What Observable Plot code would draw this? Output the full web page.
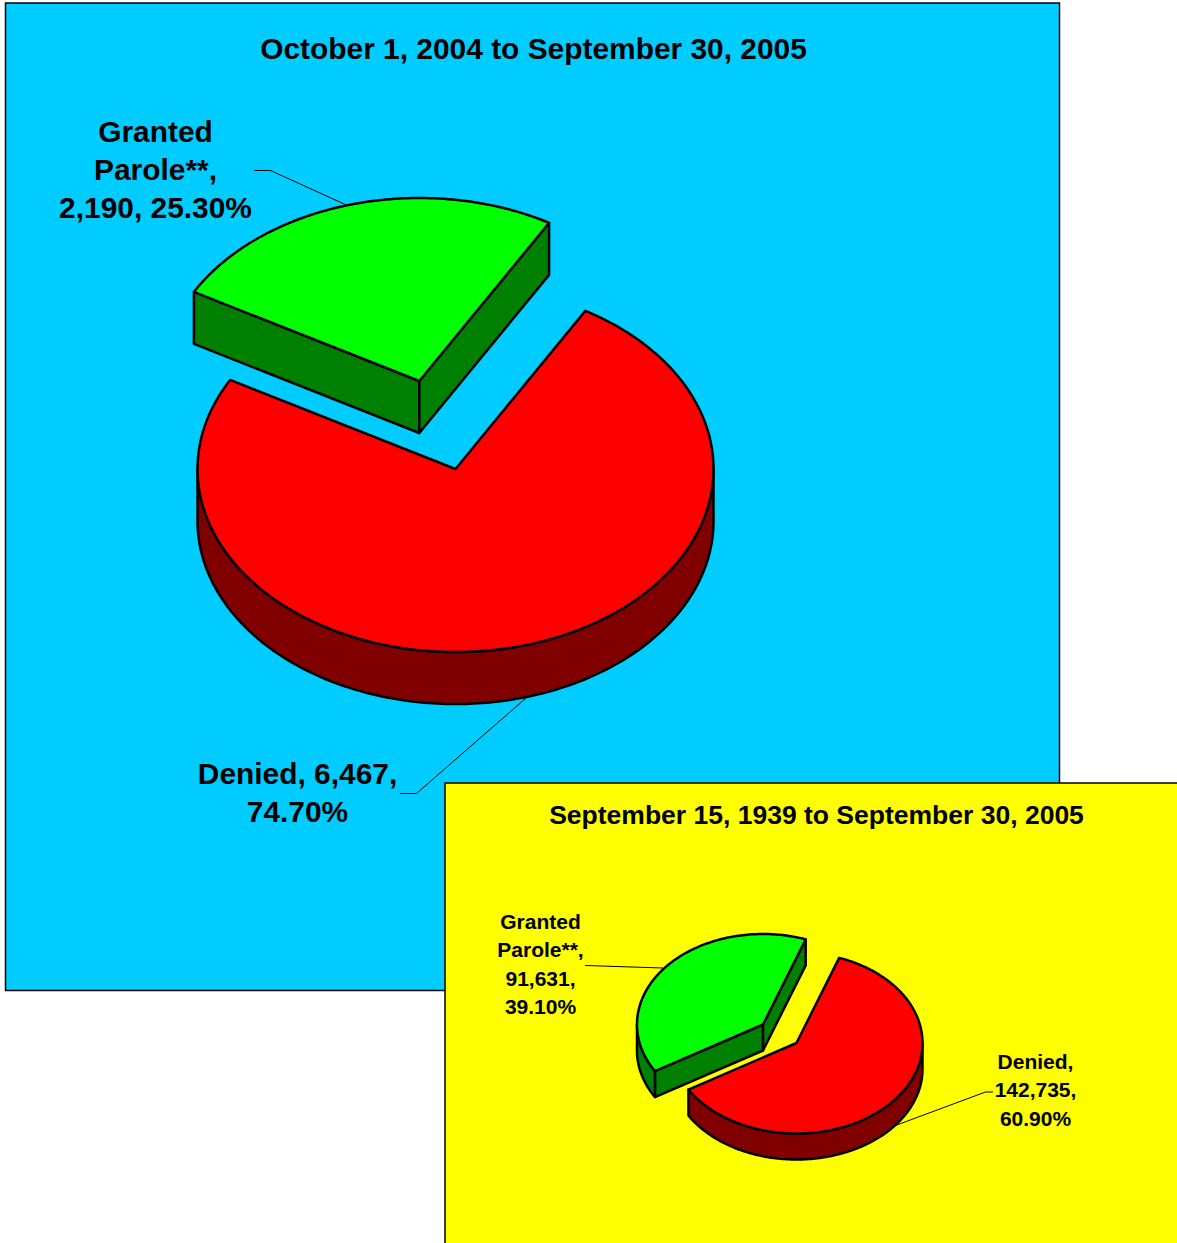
<!DOCTYPE html>
<html>
<head>
<meta charset="utf-8">
<script src="https://cdn.jsdelivr.net/npm/d3@7"></script>
<script src="https://cdn.jsdelivr.net/npm/@observablehq/plot@0.6"></script>
<style>html,body{margin:0;padding:0;background:#fff}svg{display:block}</style>
</head>
<body>
<div id="chart"></div>
<script>
// Data
const categories = ["Denied", "Granted Parole**"];
const yearValues = [6467, 2190];
const yearPercents = [74.7, 25.3];
const allTimeValues = [142735, 91631];
const allTimePercents = [60.9, 39.1];

// Layout
const W = 1177, H = 1243;
const panels = [
  {x1: 5.5, x2: 1059.5, y1: 3, y2: 990.5, color: "#00CCFF"},
  {x1: 445, x2: 1190, y1: 783, y2: 1260, color: "#FFFF00"}
];
const colors = [
  {top: "#FF0000", side: "#800000"},
  {top: "#00FF00", side: "#008000"}
];
const yearPie = {percents: yearPercents, start: 30.2, rx: 258, ry: 183, depth: 52,
  centers: [[455, 468.5], [418.8, 380.5]]};
const allTimePie = {percents: allTimePercents, start: 19.8, rx: 126, ry: 90.5, depth: 26,
  centers: [[796, 1042.5], [762.5, 1024]]};

const yearText = [
  {t: "October 1, 2004 to September 30, 2005", x: 533, y: 49},
  {t: "Granted", x: 155, y: 132},
  {t: "Parole**,", x: 155, y: 170},
  {t: "2,190, 25.30%", x: 155, y: 208},
  {t: "Denied, 6,467,", x: 297, y: 774},
  {t: "74.70%", x: 297, y: 812}
];
const allTimeTitle = [{t: "September 15, 1939 to September 30, 2005", x: 816, y: 815}];
const allTimeText = [
  {t: "Granted", x: 540, y: 922},
  {t: "Parole**,", x: 540, y: 950},
  {t: "91,631,", x: 540, y: 979},
  {t: "39.10%", x: 540, y: 1007},
  {t: "Denied,", x: 1035, y: 1062},
  {t: "142,735,", x: 1035, y: 1090},
  {t: "60.90%", x: 1035, y: 1119}
];
const yearLeaders = [
  [[254, 170], [270, 170], [347, 205]],
  [[400, 793], [416, 793], [525, 698]]
];
const allTimeLeaders = [
  [[585, 965], [662, 967.5]],
  [[895, 1125], [985, 1091.5], [992, 1091.5]]
];

// Geometry of one exploded 3D pie from its percentages
function rim(c, p, a, dy = 0) {
  const r = a * Math.PI / 180;
  return {x: c[0] + p.rx * Math.sin(r), y: c[1] - p.ry * Math.cos(r) + dy};
}
function arc(c, p, a0, a1, dy = 0) {
  const n = Math.max(2, Math.ceil(Math.abs(a1 - a0)));
  return d3.range(n + 1).map(i => rim(c, p, a0 + (a1 - a0) * i / n, dy));
}
function pieMarks(p) {
  const polys = [];
  let a = p.start;
  p.percents.forEach((pct, i) => {
    const a0 = a, a1 = a + pct * 3.6;
    a = a1;
    const c = p.centers[i], C = {x: c[0], y: c[1]}, D = {x: c[0], y: c[1] + p.depth};
    const sides = [], col = colors[i];
    const sin = v => Math.sin(v * Math.PI / 180);
    if (sin(a0) < 0) sides.push([C, rim(c, p, a0), rim(c, p, a0, p.depth), D]);
    if (sin(a1) > 0) sides.push([C, rim(c, p, a1), rim(c, p, a1, p.depth), D]);
    const w0 = Math.max(a0, 90), w1 = Math.min(a1, 270);
    if (w1 > w0) sides.push([...arc(c, p, w0, w1), ...arc(c, p, w1, w0, p.depth)]);
    sides.forEach(s => polys.push({pts: s, fill: col.side}));
    polys.push({pts: [C, ...arc(c, p, a0, a1)], fill: col.top});
  });
  return polys.map(q => Plot.line(q.pts, {
    x: "x", y: "y", fill: q.fill, stroke: "#000", strokeWidth: 2.5,
    curve: "linear-closed", strokeLinejoin: "round"
  }));
}
const panelMark = d => Plot.rect([d], {
  x1: "x1", x2: "x2", y1: "y1", y2: "y2", fill: "color", stroke: "#000", strokeWidth: 1.5
});
const leaderMarks = ls => ls.map(l => Plot.line(l, {
  x: d => d[0], y: d => d[1], stroke: "#000", strokeWidth: 1, curve: "linear"
}));
const textMark = (rows, size) => Plot.text(rows, {
  x: "x", y: "y", text: "t", fill: "#000", fontSize: size, fontWeight: "bold",
  fontFamily: "Liberation Sans, Arial, sans-serif", textAnchor: "middle", lineAnchor: "middle"
});

const chart = Plot.plot({
  width: W, height: H,
  marginTop: 0, marginRight: 0, marginBottom: 0, marginLeft: 0,
  x: {domain: [0, W], range: [0, W], axis: null},
  y: {domain: [0, H], range: [0, H], axis: null},
  color: {type: "identity"},
  style: {background: "#fff", fontFamily: "Liberation Sans, Arial, sans-serif"},
  marks: [
    panelMark(panels[0]),
    ...leaderMarks(yearLeaders),
    ...pieMarks(yearPie),
    textMark(yearText, 29.9),
    panelMark(panels[1]),
    ...leaderMarks(allTimeLeaders),
    ...pieMarks(allTimePie),
    textMark(allTimeTitle, 26.5),
    textMark(allTimeText, 21)
  ]
});
document.getElementById("chart").append(chart);
</script>
</body>
</html>
